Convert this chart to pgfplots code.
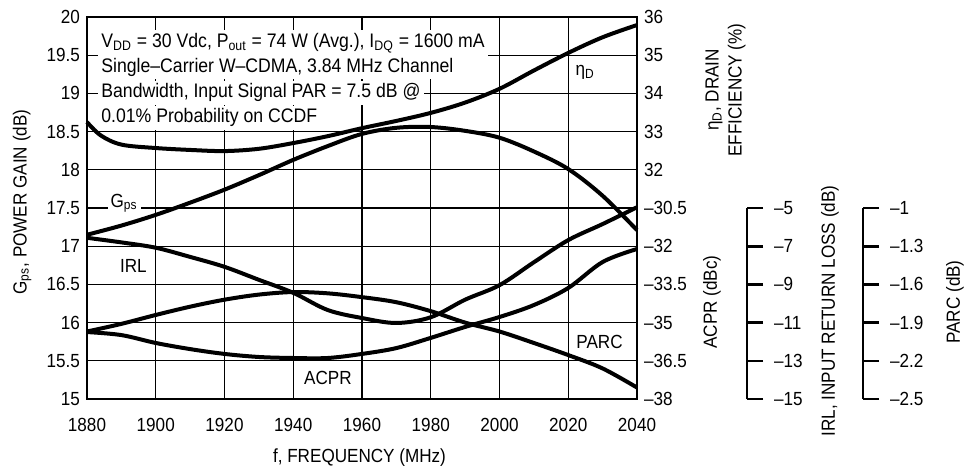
\documentclass[border=0pt]{standalone}
\usepackage{fontspec}
\setmainfont{Liberation Sans}[FakeStretch=0.9]
\usepackage{pgfplots}
\pgfplotsset{compat=1.18}

\pgfplotsset{
  every axis/.append style={
    scale only axis,
    font=\fontsize{9.5}{11}\selectfont,
    /pgf/number format/assume math mode=true,
    /pgf/number format/1000 sep={},
    clip=false,
  },
  curve/.style={black, line width=2pt, smooth, tension=0.55, mark=none},
  side/.style={hide x axis, axis y line*=right, xmin=1880,
    major tick length=0pt, axis line style={draw=none}},
  scalebar/.style={hide x axis, axis y line*=right, xmin=1880,
    width=#1, height=95.5pt, ymin=-15, ymax=-5,
    axis line style={line width=1.3pt},
    tick style={line width=1.3pt, black},
    major tick length=8pt, tick align=outside,
    yticklabel style={xshift=2pt}},
}

\begin{document}
\begin{tikzpicture}
\useasboundingbox (-43.5pt,-36.5pt) rectangle (442.5pt,199.5pt);

% power gain, grid and frame
\begin{axis}[
  name=main, width=275pt, height=191pt,
  xmin=1880, xmax=2040, ymin=15, ymax=20,
  xtick={1880,1900,...,2040}, ytick={15,15.5,...,20},
  grid=major, grid style={line width=0.6pt, black},
  axis line style={line width=1.2pt},
  major tick length=0pt,
  xticklabel style={yshift=-6pt},
]
  \begin{scope}[every node/.style={anchor=base west, fill=white, inner sep=1.5pt,
      font=\fontsize{9.8}{11}\selectfont}]
    \node at (axis cs:1883.2,19.607) {V\textsubscript{DD} = 30 Vdc, P\textsubscript{out} = 74 W (Avg.), I\textsubscript{DQ} = 1600 mA};
    \node at (axis cs:1883.2,19.280) {Single--Carrier W--CDMA, 3.84 MHz Channel};
    \node at (axis cs:1883.2,18.940) {Bandwidth, Input Signal PAR = 7.5 dB @};
    \node at (axis cs:1883.2,18.613) {0.01\% Probability on CCDF};
  \end{scope}
  \node[fill=white, inner sep=1.5pt] at (axis cs:1890.8,17.565) {G\textsubscript{ps}};
  \node at (axis cs:1893.5,16.741) {IRL};
  \node at (axis cs:1950.1,15.281) {ACPR};
  \node at (axis cs:2029.1,15.753) {PARC};
  \node at (axis cs:2024.9,19.280) {η\textsubscript{D}};
  \addplot[curve] coordinates {
    (1880,17.15)(1890,17.27)(1900,17.41)(1910,17.57)(1920,17.74)(1930,17.93)
    (1940,18.13)(1950,18.31)(1960,18.47)(1970,18.55)(1980,18.56)(1990,18.51)
    (2000,18.42)(2010,18.24)(2020,18.01)(2030,17.66)(2040,17.21)
  };
\end{axis}

% drain efficiency
\begin{axis}[side, at={(0pt,95.5pt)}, anchor=south west,
  width=275pt, height=95.5pt, xmax=2040, ymin=31, ymax=36,
  ytick={32,33,34,35,36}]
  \addplot[curve] coordinates {
    (1880,33.25)(1884,32.90)(1890,32.66)(1900,32.57)(1910,32.52)(1920,32.49)
    (1930,32.55)(1940,32.70)(1950,32.88)(1960,33.09)(1970,33.28)(1980,33.49)
    (1990,33.76)(2000,34.12)(2010,34.60)(2020,35.06)(2030,35.47)(2040,35.79)
  };
\end{axis}

% ACPR
\begin{axis}[side, at={(0pt,0pt)}, anchor=south west,
  width=275pt, height=95.5pt, xmax=2040, ymin=-38, ymax=-30.5,
  ytick={-38,-36.5,-35,-33.5,-32,-30.5},
  yticklabels={--38,--36.5,--35,--33.5,--32,--30.5}]
  \addplot[curve] coordinates {
    (1880,-35.37)(1890,-35.49)(1900,-35.80)(1910,-36.04)(1920,-36.23)(1930,-36.35)
    (1940,-36.39)(1950,-36.39)(1960,-36.23)(1970,-36.00)(1980,-35.60)(1990,-35.17)
    (2000,-34.78)(2010,-34.31)(2020,-33.64)(2030,-32.62)(2040,-32.11)
  };
\end{axis}

% IRL, scale bar at 330pt
\begin{axis}[scalebar=330pt, at={(0pt,0pt)}, anchor=south west,
  xmax=2072, ytick={-15,-13,-11,-9,-7,-5},
  yticklabels={--15,--13,--11,--9,--7,--5}]
  \addplot[curve] coordinates {
    (1880,-6.56)(1890,-6.80)(1900,-7.08)(1910,-7.56)(1920,-8.08)(1930,-8.76)
    (1940,-9.44)(1950,-10.34)(1960,-10.76)(1970,-11.02)(1980,-10.72)(1990,-9.80)
    (2000,-9.04)(2010,-7.84)(2020,-6.68)(2030,-5.84)(2040,-4.96)
  };
\end{axis}

% PARC, scale bar at 388pt
\begin{axis}[scalebar=388pt, at={(0pt,0pt)}, anchor=south west,
  xmax=2105.745, ymin=-2.5, ymax=-1,
  ytick={-2.5,-2.2,-1.9,-1.6,-1.3,-1},
  yticklabels={--2.5,--2.2,--1.9,--1.6,--1.3,--1}]
  \addplot[curve] coordinates {
    (1880,-1.97)(1890,-1.91)(1900,-1.84)(1910,-1.775)(1920,-1.72)(1930,-1.68)
    (1940,-1.66)(1950,-1.67)(1960,-1.70)(1970,-1.74)(1980,-1.81)(1990,-1.90)
    (2000,-1.97)(2010,-2.06)(2020,-2.155)(2030,-2.26)(2040,-2.41)
  };
\end{axis}

\begin{scope}[font=\fontsize{9.5}{11.5}\selectfont]
  \node[rotate=90] at (-32.5pt,98.5pt) {G\textsubscript{ps}, POWER GAIN (dB)};
  \node at (136.25pt,-29.5pt) {f, FREQUENCY (MHz)};
  \node[rotate=90, align=center] at (319.25pt,154.5pt) {η\textsubscript{D}, DRAIN\\EFFICIENCY (\%)};
  \node[rotate=90] at (312.5pt,48.5pt) {ACPR (dBc)};
  \node[rotate=90] at (371.5pt,44pt) {IRL, INPUT RETURN LOSS (dB)};
  \node[rotate=90] at (434pt,48.5pt) {PARC (dB)};
\end{scope}
\end{tikzpicture}
\end{document}
